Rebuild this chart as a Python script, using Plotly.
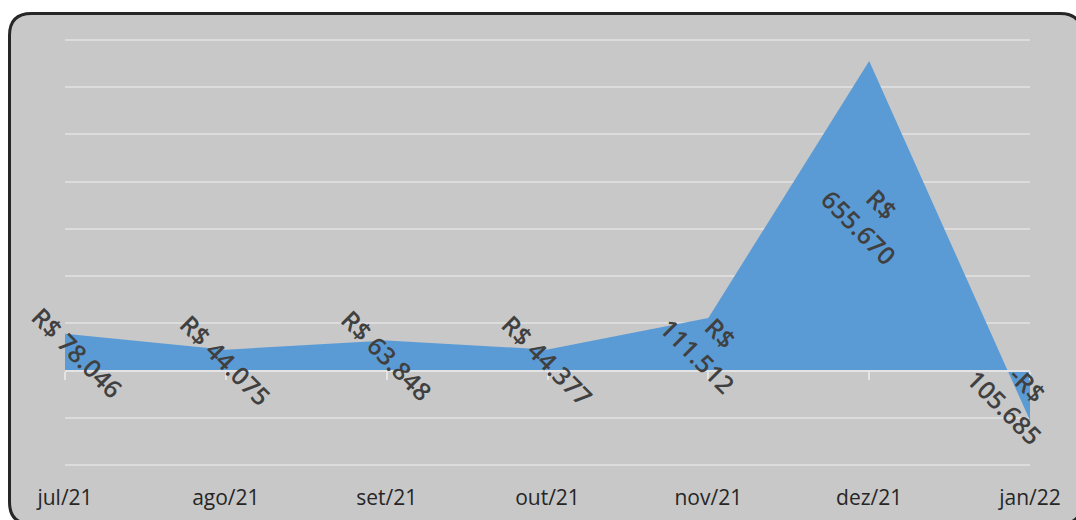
import plotly.graph_objects as go

months = ["jul/21", "ago/21", "set/21", "out/21", "nov/21", "dez/21", "jan/22"]
values = [78046, 44075, 63848, 44377, 111512, 655670, -105685]
labels = ["R$ 78.046", "R$ 44.075", "R$ 63.848", "R$ 44.377",
          "R$<br>111.512", "R$<br>655.670", "-R$<br>105.685"]
label_xshift = [12, 0, 0, 0, 1, 1, -14]

W, H = 1076, 520
PAD = 4  # extra px so edge gridlines are drawn
ML, MR, MT, MB = 65, 46, 40 - PAD, 55 - PAD
y_min, y_max, y_step = -200000, 700000, 100000
eps = PAD * (y_max - y_min) / (H - 40 - 55)

pw, ph = W - ML - MR, H - MT - MB
def px2x(p):
    return (p - ML) / pw
def py2y(p):
    return (H - MB - p) / ph

# rounded border in paper coords
L, R, T, B, rad = 9.5, 1082, 13.5, 524, 22
x0, x1, y0, y1 = px2x(L), px2x(R), py2y(B), py2y(T)
rx, ry = rad / pw, rad / ph
path = (f"M {x0+rx},{y1} L {x1-rx},{y1} Q {x1},{y1} {x1},{y1-ry} "
        f"L {x1},{y0+ry} Q {x1},{y0} {x1-rx},{y0} "
        f"L {x0+rx},{y0} Q {x0},{y0} {x0},{y0+ry} "
        f"L {x0},{y1-ry} Q {x0},{y1} {x0+rx},{y1} Z")

fig = go.Figure()
fig.add_trace(go.Scatter(
    x=months, y=values, mode="lines", fill="tozeroy",
    line=dict(width=0, color="#5b9bd5"), fillcolor="#5b9bd5",
    showlegend=False, hoverinfo="skip"))
# invisible trace for zero-axis overlay
fig.add_trace(go.Scatter(
    x=months, y=values, mode="lines", xaxis="x2", yaxis="y",
    line=dict(width=0, color="rgba(0,0,0,0)"),
    showlegend=False, hoverinfo="skip"))

for m, v, t, xs in zip(months, values, labels, label_xshift):
    fig.add_annotation(
        x=m, y=v / 2, text=t, showarrow=False, textangle=45,
        xshift=xs, font=dict(family="Open Sans", size=25, color="#404040",
                             weight=600))

ylo, yhi = y_min - eps, y_max + eps
zero_pos = (0 - ylo) / (yhi - ylo)

fig.update_layout(
    template="none",
    width=W, height=H,
    margin=dict(l=ML, r=MR, t=MT, b=MB, autoexpand=False),
    paper_bgcolor="white",
    plot_bgcolor="rgba(0,0,0,0)",
    shapes=[dict(type="path", xref="paper", yref="paper", path=path,
                 fillcolor="#c8c8c8", line=dict(color="#262626", width=3),
                 layer="below")],
    xaxis=dict(type="category", categoryorder="array", categoryarray=months,
               range=[0, len(months) - 1], showgrid=False, zeroline=False,
               showline=False, ticks="", ticklabelstandoff=14,
               automargin=False,
               tickfont=dict(family="Open Sans", size=21, color="#262626")),
    xaxis2=dict(type="category", categoryorder="array", categoryarray=months,
                range=[0, len(months) - 1], overlaying="x", anchor="free",
                position=zero_pos, showgrid=False, zeroline=False,
                showline=True, linecolor="#e4e4e4", linewidth=2,
                ticks="outside", ticklen=8, tickwidth=2, tickcolor="#e4e4e4",
                showticklabels=False, automargin=False),
    yaxis=dict(range=[ylo, yhi], dtick=y_step, tick0=0,
               showgrid=True, gridcolor="#dcdcdc", gridwidth=2,
               zeroline=False, showticklabels=False, ticks="",
               showline=False, automargin=False),
    font=dict(family="Open Sans"),
)

fig.write_html("out.html", config={"displayModeBar": False},
               post_script="document.body.style.margin='0';document.body.style.overflow='hidden';")
